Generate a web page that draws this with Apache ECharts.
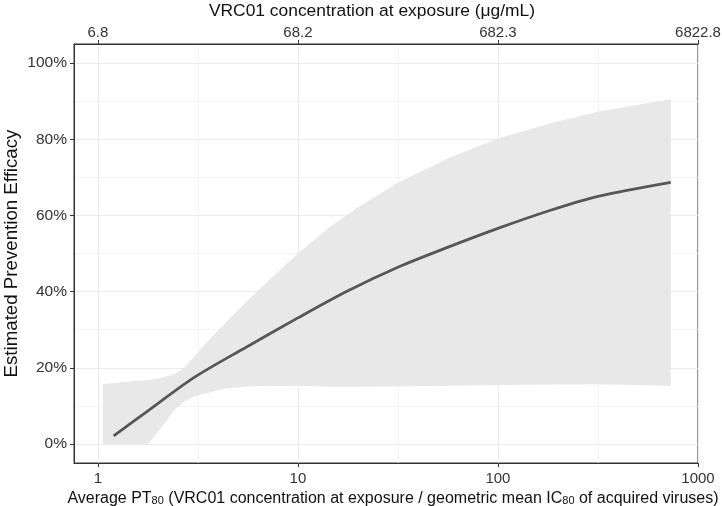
<!DOCTYPE html>
<html>
<head>
<meta charset="utf-8">
<script src="https://cdn.jsdelivr.net/npm/echarts@6/dist/echarts.min.js"></script>
<style>
  html, body { margin: 0; padding: 0; background: #fff; }
  #chart { width: 722px; height: 506px; }
</style>
</head>
<body>
<div id="chart"></div>
<script>
// axis ticks
const bottomTicks = [1, 10, 100, 1000];
const topTickLabels = ['6.8', '68.2', '682.3', '6822.8'];
const xMinorTicks = [3.162, 31.62, 316.2];
const yTicks = [0, 20, 40, 60, 80, 100];
const yMinorTicks = [10, 30, 50, 70, 90];

// fitted efficacy curve (%)
const lineX = [1.2, 1.78, 3.06, 5.51, 10, 17.6, 31.6, 55.9, 100, 177, 316, 731];
const lineY = [2.1, 8.7, 17.6, 25.4, 33.1, 40.1, 46.4, 51.6, 56.6, 61.1, 65.0, 68.7];

// confidence band (%)
const bandX = [1.06, 1.37, 1.78, 2.09, 2.43, 2.73, 3.06, 3.64, 4.18, 4.58, 5.45, 6.48,
  10, 14.5, 19.8, 31.6, 57.9, 100, 183, 316, 518, 731];
const bandUpper = [15.7, 16.3, 16.8, 17.4, 18.4, 20.2, 23.2, 27.6, 30.8, 33.0, 37.0, 40.8,
  50.0, 57.0, 62.0, 68.6, 75.3, 80.2, 84.2, 87.2, 89.2, 90.5];
const bandLower = [0, 0, 0, 4.5, 9.2, 11.3, 12.6, 13.6, 14.4, 14.7, 15.0, 15.2,
  15.3, 15.0, 15.0, 15.1, 15.3, 15.5, 15.6, 15.7, 15.5, 15.2];

const chart = echarts.init(document.getElementById('chart'));
const font = 'Liberation Sans, Arial, sans-serif';
const axisColor = '#333';
const gridMajor = '#ebebeb';
const gridMinor = '#f4f4f4';

const logAxis = {
  type: 'log',
  logBase: 10,
  min: 0.76,
  max: 1000,
};

const option = {
  backgroundColor: '#fff',
  animation: false,
  textStyle: { fontFamily: font },
  grid: {
    left: 74, right: 24, top: 44, bottom: 43,
    containLabel: false,
    outerBoundsMode: 'none',
    show: true, borderColor: axisColor, borderWidth: 1, backgroundColor: 'transparent'
  },
  xAxis: [
    {
      ...logAxis,
      position: 'bottom',
      name: 'Average PT{sub|80} (VRC01 concentration at exposure / geometric mean IC{sub|80} of acquired viruses)',
      nameLocation: 'middle',
      nameGap: 24,
      nameTextStyle: {
        fontSize: 16, color: '#111', fontFamily: font, padding: [0, 0, 0, 14],
        rich: { sub: { fontSize: 11, color: '#111', verticalAlign: 'bottom', fontFamily: font } }
      },
      axisLine: { show: true, onZero: false, lineStyle: { color: axisColor, width: 1 } },
      axisTick: { show: true, length: 4, customValues: bottomTicks, lineStyle: { color: axisColor } },
      axisLabel: {
        customValues: bottomTicks, color: '#333', fontSize: 15, margin: 8, fontFamily: font,
        formatter: (v) => String(Math.round(v))
      },
      splitLine: { show: true, lineStyle: { color: gridMajor, width: 1 } }
    },
    {
      ...logAxis,
      position: 'top',
      name: 'VRC01 concentration at exposure (μg/mL)',
      nameLocation: 'middle',
      nameGap: 23,
      nameTextStyle: { fontSize: 17.4, color: '#111', fontFamily: font, padding: [0, 28, 0, 0] },
      axisLine: { show: true, onZero: false, lineStyle: { color: axisColor, width: 1 } },
      axisTick: { show: true, length: 4, customValues: bottomTicks, lineStyle: { color: axisColor } },
      axisLabel: {
        customValues: bottomTicks, color: '#333', fontSize: 15, margin: 4, fontFamily: font,
        formatter: (v) => topTickLabels[Math.round(Math.log10(v))]
      },
      splitLine: { show: false }
    },
    {
      ...logAxis,
      position: 'bottom',
      axisLine: { show: false, onZero: false },
      axisTick: { show: false, customValues: xMinorTicks },
      axisLabel: { show: false, customValues: xMinorTicks },
      splitLine: { show: true, lineStyle: { color: gridMinor, width: 1 } }
    }
  ],
  yAxis: [
    {
      type: 'value',
      min: -5,
      max: 105,
      name: 'Estimated Prevention Efficacy',
      nameLocation: 'middle',
      nameRotate: 90,
      nameGap: 53,
      nameMoveOverlap: false,
      nameTextStyle: { fontSize: 18.7, color: '#111', fontFamily: font },
      axisLine: { show: true, onZero: false, lineStyle: { color: axisColor, width: 1 } },
      axisTick: { show: true, length: 4, customValues: yTicks, lineStyle: { color: axisColor } },
      axisLabel: {
        customValues: yTicks, color: '#333', fontSize: 15.5, margin: 7, fontFamily: font,
        formatter: (v) => Math.round(v) + '%'
      },
      splitLine: { show: true, lineStyle: { color: gridMajor, width: 1 } }
    },
    {
      type: 'value',
      min: -5,
      max: 105,
      position: 'left',
      axisLine: { show: false, onZero: false },
      axisTick: { show: false, customValues: yMinorTicks },
      axisLabel: { show: false, customValues: yMinorTicks },
      splitLine: { show: true, lineStyle: { color: gridMinor, width: 1 } }
    }
  ],
  series: [
    {
      name: 'band',
      type: 'custom',
      xAxisIndex: 0,
      yAxisIndex: 0,
      silent: true,
      z: 2,
      data: bandX.map((x, i) => [x, bandLower[i], bandUpper[i]]),
      encode: { x: 0, y: [1, 2] },
      renderItem: function (params, api) {
        if (params.dataIndex !== 0) return;
        const pts = [];
        for (let i = 0; i < bandX.length; i++) pts.push(api.coord([bandX[i], bandUpper[i]]));
        for (let i = bandX.length - 1; i >= 0; i--) pts.push(api.coord([bandX[i], bandLower[i]]));
        return {
          type: 'polygon',
          shape: { points: pts },
          style: { fill: '#e8e8e8', stroke: null }
        };
      }
    },
    {
      name: 'efficacy',
      type: 'line',
      xAxisIndex: 0,
      yAxisIndex: 0,
      smooth: 0.3,
      showSymbol: false,
      z: 3,
      lineStyle: { color: '#575757', width: 2.8 },
      data: lineX.map((x, i) => [x, lineY[i]])
    }
  ]
};
chart.setOption(option);
</script>
</body>
</html>
